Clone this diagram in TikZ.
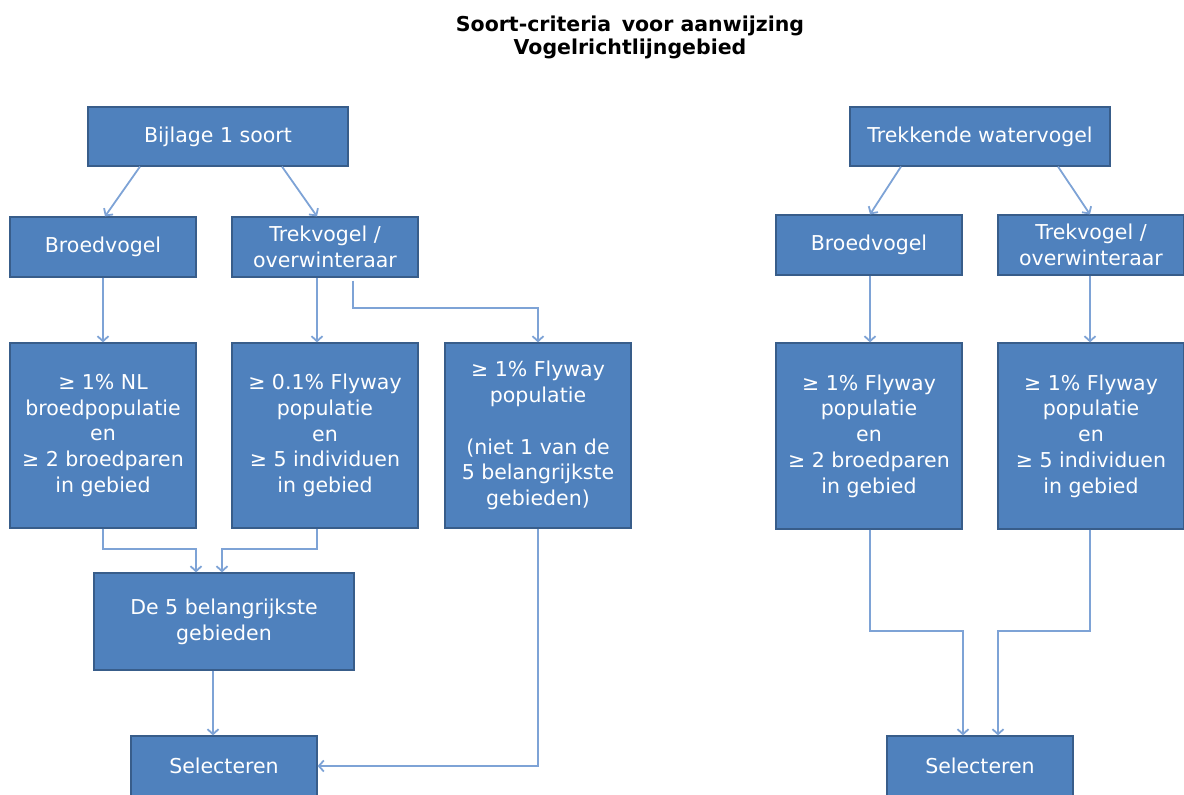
\documentclass[tikz,border=0pt]{standalone}
\usepackage{fontspec}
\setmainfont{DejaVu Sans}
\definecolor{boxfill}{RGB}{79, 129, 189}
\definecolor{boxedge}{RGB}{56, 93, 138}
\definecolor{linkblue}{RGB}{126, 163, 214}
\usetikzlibrary{arrows.meta, positioning, calc}

\begin{document}
\begin{tikzpicture}[x=1pt, y=1pt,
  box/.style={draw=boxedge, fill=boxfill, text=white, line width=1.2pt, align=center, inner sep=0pt, font=\fontsize{20.5}{25.7}\selectfont},
  link/.style={draw=linkblue, line width=1.8pt, -{Straight Barb[length=5pt, width=11pt]}}]
  \useasboundingbox (0, 0) rectangle (1184, 795);

  \node[font=\fontsize{20.5}{23}\selectfont\bfseries, align=center] (title) at (630, 757.5) {Soort-criteria\, voor aanwijzing\\Vogelrichtlijngebied};

  % Bijlage 1 soort
  \node[box, minimum width=260, minimum height=59] (bijlage) at (218, 658.5) {Bijlage 1 soort};
  \node[box, minimum width=186, minimum height=60] (broedL) at (103, 548) {Broedvogel};
  \node[box, minimum width=186, minimum height=60] (trekL) at (325, 548) {Trekvogel /\\overwinteraar};

  \node[box, minimum width=186, minimum height=185] (nl) at (103, 359.5) {
    ≥ 1\% NL\\broedpopulatie\\en\\≥ 2 broedparen\\in gebied
  };
  \node[box, minimum width=186, minimum height=185] (flyL) at (325, 359.5) {
    ≥ 0.1\% Flyway\\populatie\\en\\≥ 5 individuen\\in gebied
  };
  \node[box, minimum width=186, minimum height=185] (fly) at (538, 359.5) {
    ≥ 1\% Flyway\\populatie\\[25.7pt](niet 1 van de\\5 belangrijkste\\gebieden)
  };

  \node[box, minimum width=260, minimum height=97] (vijf) at (224, 173.5) {De 5 belangrijkste\\gebieden};
  \node[box, minimum width=186, minimum height=60] (selL) at (224, 29) {Selecteren};

  % Trekkende watervogel
  \node[box, minimum width=260, minimum height=59] (trekkende) at (980, 658.5) {Trekkende watervogel};
  \node[box, minimum width=186, minimum height=60] (broedR) at (869, 550) {Broedvogel};
  \node[box, minimum width=186, minimum height=60] (trekR) at (1091, 550) {Trekvogel /\\overwinteraar};

  \node[box, minimum width=186, minimum height=186] (flyR1) at (869, 359) {
    ≥ 1\% Flyway\\populatie\\en\\≥ 2 broedparen\\in gebied
  };
  \node[box, minimum width=186, minimum height=186] (flyR2) at (1091, 359) {
    ≥ 1\% Flyway\\populatie\\en\\≥ 5 individuen\\in gebied
  };

  \node[box, minimum width=186, minimum height=60] (selR) at (980, 29) {Selecteren};

  % Connectors left
  \draw[link] ([xshift=-78]bijlage.south) -- ([xshift=2]broedL.north);
  \draw[link] ([xshift=64]bijlage.south) -- ([xshift=-8]trekL.north);
  \draw[link] (broedL.south) -- (nl.north);
  \draw[link] ([xshift=-8]trekL.south) -- ([xshift=-8]flyL.north);
  \draw[link] ([xshift=28, yshift=-3]trekL.south) |- ([yshift=34]fly.north) -- (fly.north);
  \draw[link] (nl.south) |- ([xshift=-28, yshift=23]vijf.north) -- ([xshift=-28]vijf.north);
  \draw[link] ([xshift=-8]flyL.south) |- ([xshift=-2, yshift=23]vijf.north) -- ([xshift=-2]vijf.north);
  \draw[link] ([xshift=-11]vijf.south) -- ([xshift=-11]selL.north);
  \draw[link] (fly.south) |- (selL.east);

  % Connectors right
  \draw[link] ([xshift=-79]trekkende.south) -- ([xshift=1]broedR.north);
  \draw[link] ([xshift=78]trekkende.south) -- ([xshift=-1]trekR.north);
  \draw[link] ([xshift=1]broedR.south) -- ([xshift=1]flyR1.north);
  \draw[link] ([xshift=-1]trekR.south) -- ([xshift=-1]flyR2.north);
  \draw[link] ([xshift=1]flyR1.south) |- ([xshift=-17, yshift=104]selR.north) -- ([xshift=-17]selR.north);
  \draw[link] ([xshift=-1]flyR2.south) |- ([xshift=18, yshift=104]selR.north) -- ([xshift=18]selR.north);
\end{tikzpicture}
\end{document}
